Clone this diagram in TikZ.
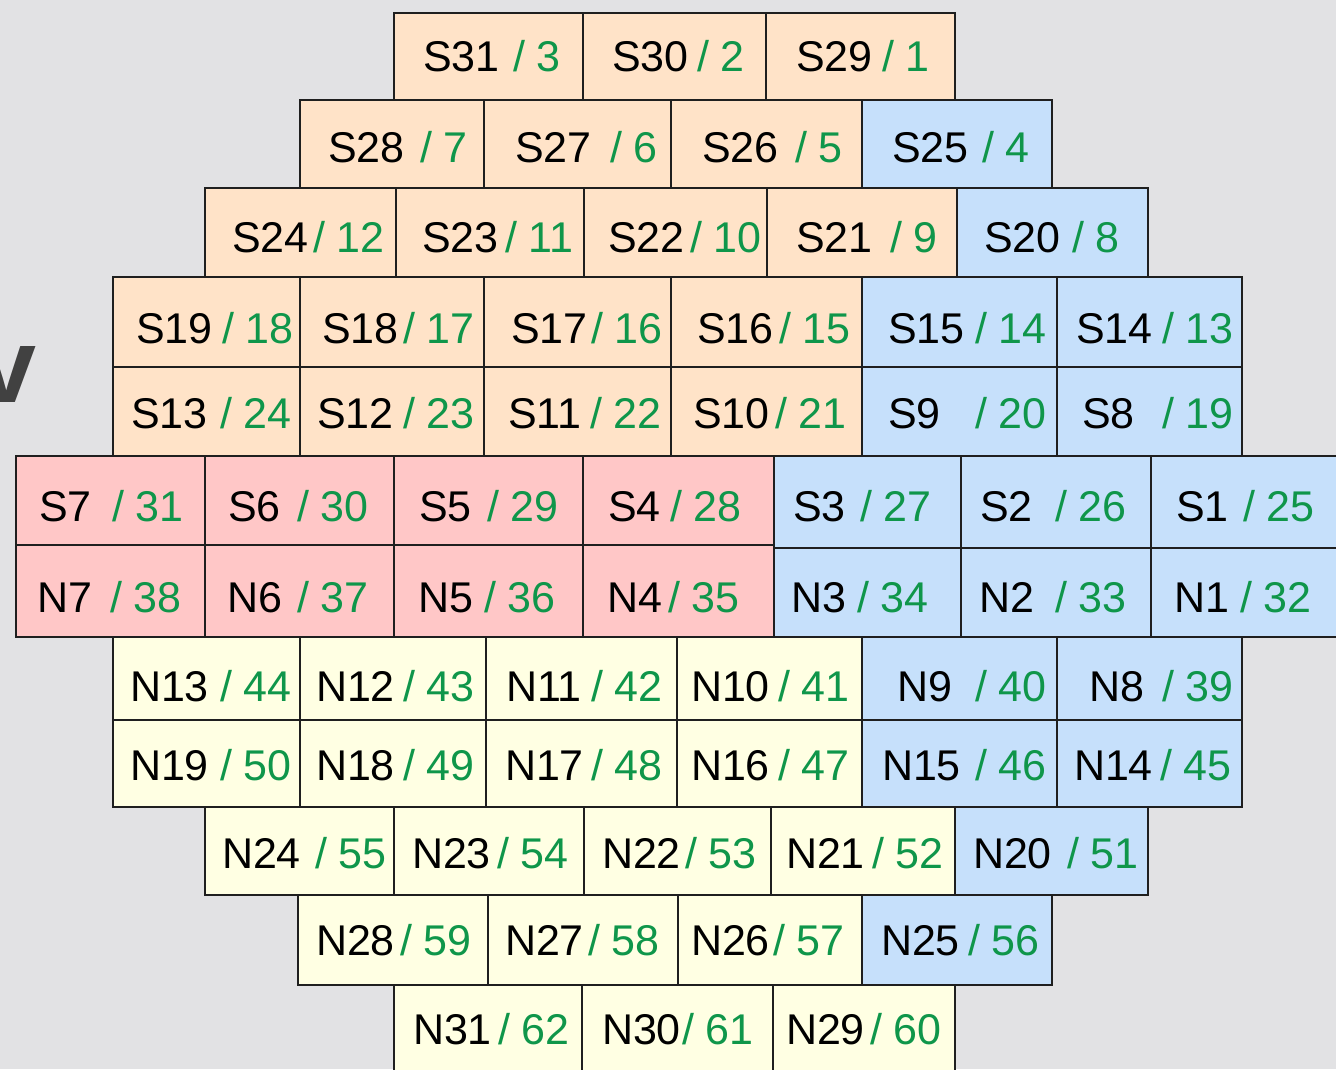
\documentclass[tikz,border=0pt]{standalone}
\usepackage{fontspec}
\setmainfont{Liberation Sans}
\definecolor{bg}{HTML}{E2E2E4}
\definecolor{peach}{HTML}{FFE3C8}
\definecolor{skyblue}{HTML}{C6E0FB}
\definecolor{pinkc}{HTML}{FFC7C7}
\definecolor{cream}{HTML}{FFFFE3}
\definecolor{numgreen}{HTML}{0F964A}
\definecolor{vgray}{HTML}{414141}
\tikzset{
  cellbox/.style={draw=black!88, line width=1.6pt, inner sep=0pt, outer sep=0pt, rectangle},
  lbl/.style={inner sep=0pt, outer sep=0pt, anchor=base west, font=\fontsize{43}{43}\selectfont, text=black},
  numlbl/.style={lbl, text=numgreen}
}
% \cel{name}{x0}{x1}{fill}{label x}{number}{number x}
\newcommand\cel[7]{%
  \node[cellbox, fill=#4, minimum width={(#3-#2)*1pt}, minimum height={(\yb-\ya)*1pt}]
    (#1) at ({(#2+#3)/2},{(\ya+\yb)/2}) {};
  \node[lbl] (#1-t) at (#5,\yt) {#1};
  \node[numlbl] (#1-n) at (#7,\yt) {/ #6};
}
\begin{document}
\begin{tikzpicture}[x=1pt,y=-1pt]
\useasboundingbox (0,0) rectangle (1336,1069);
\clip (0,0) rectangle (1336,1069);
\fill[bg] (0,0) rectangle (1336,1069);
\node[inner sep=0pt, anchor=base west, text=vgray, font=\fontsize{106}{106}\selectfont\bfseries] (vchar) at (-23,402) {v};

% row 1
\def\ya{13}\def\yb{100}\def\yt{71}
\cel{S31}{394}{583}{peach}{423}{3}{513}
\cel{S30}{583}{766}{peach}{612}{2}{697}
\cel{S29}{766}{955}{peach}{796}{1}{882}
% row 2
\def\ya{100}\def\yb{188}\def\yt{162}
\cel{S28}{300}{484}{peach}{328}{7}{420}
\cel{S27}{484}{671}{peach}{515}{6}{610}
\cel{S26}{671}{862}{peach}{702}{5}{795}
\cel{S25}{862}{1052}{skyblue}{892}{4}{982}
% row 3
\def\ya{188}\def\yb{277}\def\yt{252}
\cel{S24}{205}{396}{peach}{232}{12}{313}
\cel{S23}{396}{584}{peach}{422}{11}{505}
\cel{S22}{584}{767}{peach}{608}{10}{690}
\cel{S21}{767}{957}{peach}{796}{9}{890}
\cel{S20}{957}{1148}{skyblue}{984}{8}{1072}
% row 4
\def\ya{277}\def\yb{367}\def\yt{343}
\cel{S19}{113}{300}{peach}{136}{18}{222}
\cel{S18}{300}{484}{peach}{322}{17}{403}
\cel{S17}{484}{671}{peach}{511}{16}{591}
\cel{S16}{671}{862}{peach}{697}{15}{779}
\cel{S15}{862}{1057}{skyblue}{888}{14}{975}
\cel{S14}{1057}{1242}{skyblue}{1076}{13}{1162}
% row 5
\def\ya{367}\def\yb{456}\def\yt{428}
\cel{S13}{113}{300}{peach}{131}{24}{220}
\cel{S12}{300}{484}{peach}{317}{23}{403}
\cel{S11}{484}{671}{peach}{508}{22}{590}
\cel{S10}{671}{862}{peach}{693}{21}{775}
\cel{S9}{862}{1057}{skyblue}{888}{20}{975}
\cel{S8}{1057}{1242}{skyblue}{1082}{19}{1162}
% row 6
\def\ya{456}\def\yb{545}\def\yt{521}
\cel{S7}{16}{205}{pinkc}{39}{31}{112}
\cel{S6}{205}{394}{pinkc}{228}{30}{297}
\cel{S5}{394}{583}{pinkc}{419}{29}{487}
\cel{S4}{583}{774}{pinkc}{608}{28}{670}
\def\yb{548}
\cel{S3}{774}{961}{skyblue}{793}{27}{860}
\cel{S2}{961}{1151}{skyblue}{980}{26}{1055}
\cel{S1}{1151}{1352}{skyblue}{1176}{25}{1243}
% row 7
\def\ya{545}\def\yb{637}\def\yt{612}
\cel{N7}{16}{205}{pinkc}{37}{38}{110}
\cel{N6}{205}{394}{pinkc}{227}{37}{297}
\cel{N5}{394}{583}{pinkc}{418}{36}{484}
\cel{N4}{583}{774}{pinkc}{607}{35}{668}
\def\ya{548}
\cel{N3}{774}{961}{skyblue}{791}{34}{857}
\cel{N2}{961}{1151}{skyblue}{979}{33}{1055}
\cel{N1}{1151}{1352}{skyblue}{1174}{32}{1240}
% row 8
\def\ya{637}\def\yb{720}\def\yt{701}
\cel{N13}{113}{300}{cream}{130}{44}{220}
\cel{N12}{300}{486}{cream}{316}{43}{403}
\cel{N11}{486}{677}{cream}{506}{42}{591}
\cel{N10}{677}{862}{cream}{691}{41}{778}
\cel{N9}{862}{1057}{skyblue}{897}{40}{975}
\cel{N8}{1057}{1242}{skyblue}{1089}{39}{1162}
% row 9
\def\ya{720}\def\yb{807}\def\yt{780}
\cel{N19}{113}{300}{cream}{130}{50}{220}
\cel{N18}{300}{486}{cream}{316}{49}{403}
\cel{N17}{486}{677}{cream}{505}{48}{591}
\cel{N16}{677}{862}{cream}{691}{47}{778}
\cel{N15}{862}{1057}{skyblue}{882}{46}{975}
\cel{N14}{1057}{1242}{skyblue}{1074}{45}{1160}
% row 10
\def\ya{807}\def\yb{895}\def\yt{868}
\cel{N24}{205}{394}{cream}{222}{55}{315}
\cel{N23}{394}{584}{cream}{412}{54}{497}
\cel{N22}{584}{771}{cream}{602}{53}{685}
\cel{N21}{771}{955}{cream}{786}{52}{872}
\cel{N20}{955}{1148}{skyblue}{973}{51}{1067}
% row 11
\def\ya{895}\def\yb{985}\def\yt{955}
\cel{N28}{298}{488}{cream}{316}{59}{400}
\cel{N27}{488}{678}{cream}{505}{58}{588}
\cel{N26}{678}{862}{cream}{691}{57}{773}
\cel{N25}{862}{1052}{skyblue}{881}{56}{968}
% row 12
\def\ya{985}\def\yb{1085}\def\yt{1044}
\cel{N31}{394}{582}{cream}{413}{62}{498}
\cel{N30}{582}{773}{cream}{602}{61}{682}
\cel{N29}{773}{955}{cream}{786}{60}{870}
\end{tikzpicture}
\end{document}
